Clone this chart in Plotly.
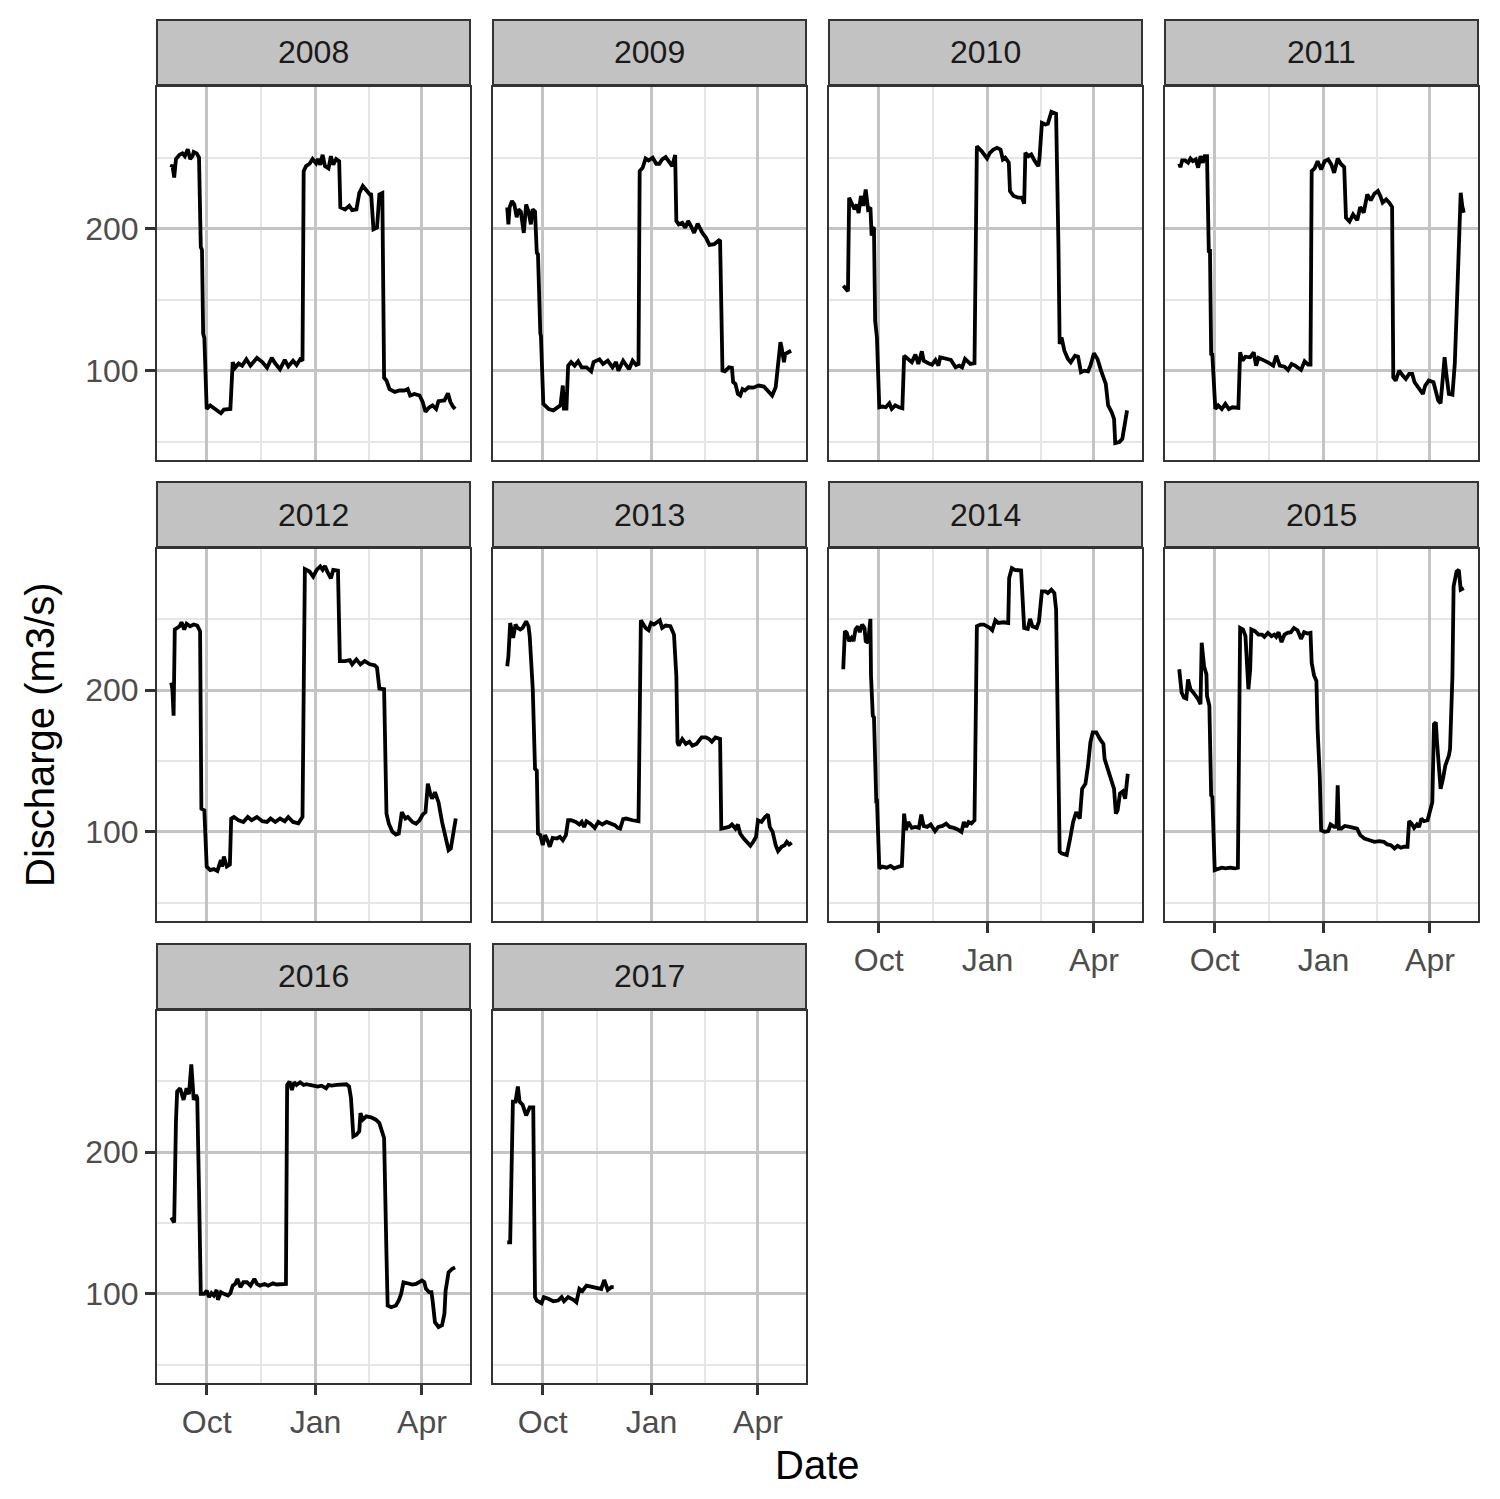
import pandas as pd
import plotly.graph_objects as go

# ---------------- data (day offset since 1 Sep, discharge m3/s) ----------------
years = ["2008", "2009", "2010", "2011", "2012", "2013", "2014", "2015", "2016", "2017"]

y2008 = [(0,243),(1,245),(2.5,236),(4,249),(7,252),(9.5,253),(11.5,251),(14,256),(16,249),(18,251),(19,254),(21.5,253),(23.5,250),(25,187),(26,185),(27,126),(28,123),(30,73),(33,75.5),(35.5,74),(38,72),(42,70),(44.5,72.5),(50,73),(52,106),(54,102),(57,105),(60,103.5),(63.5,108),(67,103.5),(72.5,109),(77,106),(81,102),(85,109),(88,105),(92,101),(96,107.5),(99,103),(103,107),(106,104),(109,108),(111,107),(112,240.5),(114,244),(117,245.7),(119.5,249),(122.5,246),(124,249),(126,245),(128,252),(130,244),(133,242.4),(135,251),(137,245),(139.5,249),(142,247.5),(143,215),(147,213.5),(150.5,216),(153,213),(156.6,213.6),(159,225),(162,230),(165,226.5),(168,224),(169,225),(171,199.5),(174,200.7),(176,224),(178.5,225),(180,95),(182,93),(184.6,87),(189,85),(193,86),(197,86),(200,87),(202,82.5),(205.6,83.6),(210,82.5),(212.6,78),(215,71),(218,74),(221,75.5),(224,73),(226,78.5),(231,79),(234,84),(236,78),(238,75),(240,73)]

y2009 = [(0,215),(1,203),(2,215),(4,219.5),(6,217),(8,208),(9.5,213.6),(11.5,212),(14,197),(16,217),(18,212),(20,203),(21.5,213.6),(23.5,212),(25,183),(26,182),(28,126),(28.5,124.6),(30.5,76.6),(35,73),(39,72),(43,74.2),(45,75.5),(47,89.5),(48,72),(49,84.8),(50,72),(51.5,103.5),(54,106),(57,103.5),(60,106.6),(63,102.3),(67,102.3),(71,99.5),(73,106),(78,108),(81,104.7),(85,107),(89,102.3),(92,106),(94,100),(98,107),(100.5,103.5),(103,101),(106,107),(109,104),(111,104.7),(112,240.5),(114.5,242.9),(117,249.4),(119.5,248),(123,250),(126,245.7),(128.6,245.7),(131,248.7),(134,250.4),(136.5,247.5),(139.5,244),(142,251.8),(143,205.4),(145,203),(148,204),(150.5,200.7),(153,205.4),(156,200.7),(158,197),(161,203.5),(165,197),(168,193.7),(171,188.5),(175,189),(179,191.8),(180,191.3),(182,100),(184,99.5),(187.5,102.3),(190,101.9),(191,92),(193,90.6),(195,83.6),(197,82.5),(199,87),(201,86),(204,88.3),(208,88),(212.6,89.5),(217,88.8),(220,86),(224,82.5),(227,88.3),(229,107),(231,120),(232,116.4),(234,106),(235,111.7),(238,113),(240,114)]

y2010 = [(0,159.7),(2,157.4),(4,156),(5,221.8),(7.5,218),(9.5,213.6),(11.5,217),(13,211),(15,223),(17,216),(19,227.6),(21,213.6),(23,214.8),(24,195),(25,200.7),(26,200),(27,135),(28.5,123.4),(30.5,74.2),(33,74.7),(36,74.2),(39,77),(41,73),(44,75.5),(47,74.2),(50,73.5),(51.5,110.5),(54,109),(58,106),(61,111.3),(63.5,104.7),(66.5,113.6),(68,107),(72,105.2),(75,104.2),(78,107.5),(80.5,103.5),(82,109.4),(86.5,108.2),(91,107.5),(95,102.3),(98,103.5),(100.5,102.3),(103,108.2),(107.5,104.7),(111,105.2),(113,258),(117,254.6),(121.6,249.4),(124,253.4),(127,255.7),(130,256.9),(133,255.7),(135,248.7),(137,249.9),(140,246.4),(141,226.5),(144,223),(148,221.8),(151,221.8),(153,217.6),(154,253.4),(156.6,251),(159,252.2),(162,247.5),(165,244),(166,250),(168,274.5),(171,273.3),(173,273.8),(176,282.2),(177.6,281.5),(180,280.8),(182,186.7),(183,118.7),(184.6,123.4),(187,114),(190,108.2),(192.4,105.8),(196,110.5),(198.6,109.8),(201,98.8),(204,100),(207,99.5),(209,103.5),(212,112.2),(215,108.2),(218,100),(220,94.1),(222,90.6),(224,75.5),(227,70.7),(229,66),(230,49),(233.5,49.7),(236,52),(240,72)]

y2011 = [(0,245.7),(1,243.3),(2.5,248),(5,248),(7.5,246.4),(9.5,249.4),(11.5,247.5),(14,248.7),(16,242.9),(18,251),(20,246.4),(21.5,251),(23.5,251),(25,184.3),(26,184.3),(27,111.7),(28,111.3),(30.5,73),(33,75.5),(36,73),(39,76.6),(42,73),(45,74.2),(50,73.7),(51.5,112.9),(53.5,107),(56,109.8),(60,109.4),(63,112.9),(65,103.5),(67,109),(71,107.5),(75,105.8),(79.5,103.5),(82,110.5),(85,103.5),(89,102.8),(92,100.5),(95,104.7),(98,103.5),(103,100.5),(106,106.6),(109,104.2),(111,104.2),(112,240.5),(114.5,242.4),(117,247.5),(120,241.7),(123,247.5),(126,248.7),(128.6,245.2),(131,239.3),(134,249.4),(136.5,245.7),(139.5,243.3),(141,207.7),(144,205),(147,210),(150.5,205.9),(153,215.2),(156,211.2),(159,224.1),(162,219.9),(165,224.6),(168,226.5),(170,223),(172,218.3),(175,220.6),(177.6,218.3),(180,215.2),(181,95.3),(183,93),(186,100),(189,96.5),(191.6,94.1),(194.4,97.7),(197,97.7),(199,91.8),(201,89.5),(204,86),(206,83.6),(208,89.5),(211,93),(215,91.8),(217,86),(219,78.9),(221,77),(222.5,90.6),(224.4,109.4),(226,96.5),(228,83.6),(231,83.1),(233,104.7),(234.5,139.8),(236.5,182),(238,225.3),(239.3,216),(240.6,211.2)]

y2012 = [(0,205.4),(1,200.7),(2,182),(3,242.9),(5,244),(7,245.2),(8.7,248),(11,242.9),(13,247),(16,245.2),(19,246.4),(22,245.7),(24.4,241.7),(25.5,116.4),(28,115.2),(30,75.5),(33,73),(36,73.7),(39,72.4),(42,80),(43,75.5),(44.5,82.5),(47,75.5),(49.6,77),(50.7,109.4),(53,110.5),(57,108.2),(61,107),(64.7,110.5),(68,108.2),(72.5,110.5),(77,107.5),(81,107),(84,109.4),(88,107),(92,109.4),(96,107.5),(99,110.5),(103,107),(107.5,106),(111,110.5),(113,285.5),(117,283.8),(120,280.3),(123,285),(126,287.4),(128,285),(130,287.8),(132,283.8),(135,279),(137,285),(141,284.5),(142.6,220.6),(147,220.6),(151,221.3),(153,218.3),(156.6,221.8),(160,218.3),(163.6,220.6),(168,218.3),(172,217.6),(174,215.9),(176,201.2),(178.5,200.7),(180,200.7),(182,112.9),(184,105.8),(187,100),(190,98.1),(192.4,98.8),(195,114),(198,109.4),(200,110.5),(204,107),(207,105.8),(210,108.2),(212.6,112.2),(215,114),(217,134),(219,126.9),(220.5,123.4),(223,128),(226,121),(229,107),(232,96.5),(234.5,87.1),(236.4,88.3),(240.6,109.4)]

y2013 = [(0,217),(1,224.1),(2.5,247.5),(4,241.7),(5,237),(7,246.4),(8.7,244),(11,242.9),(13,244),(16,248.7),(18,245.2),(19,238.2),(21,201.9),(21.6,200.7),(23.5,144.5),(25,143.3),(26,98.8),(28,97.7),(30,90.6),(32,97.7),(34,94.1),(36,89.5),(38.4,95.8),(42,95.3),(44.5,96.5),(47,94.1),(49.6,97.7),(51.5,108.2),(54,108.2),(58,107),(61,105.2),(63,107),(65,103.5),(67,107.5),(70.3,105.8),(74,102.8),(77,107),(80.4,105.2),(84,107),(87,105.8),(91,104.7),(93.5,102.8),(95.5,102.3),(98,109),(100.5,109.4),(106,108.2),(111,107.5),(113,249.4),(115,246.4),(117,244),(119.5,242.4),(121.6,247.5),(124,246.4),(127,248.7),(129,249.4),(131,244),(134,245.7),(138,245.2),(141,239.3),(143,210),(144,163.2),(145,160.9),(148,165.6),(151,162.1),(154,163.7),(156.6,160.9),(160,162.1),(164.4,166.7),(168,166.7),(170.6,165.6),(173,163.7),(176,166.7),(179,166),(180,165.6),(181,102.3),(184,102.8),(187.5,103.5),(190,105.2),(193,102.3),(195,105.2),(197,98.8),(200,95.3),(203,93),(205.6,90.2),(208,93),(210.4,96.5),(212,108.2),(215,107),(218,110.5),(220.5,112.2),(222,103.5),(224.4,100),(227,90.6),(229,86.4),(232,89.5),(234.5,90.6),(236.4,93),(238.4,91.1),(240.6,92.3)]

y2014 = [(0,214.8),(1.4,241.7),(3,240.5),(5,234.7),(7,237),(8.7,234.7),(10.4,242.9),(12.3,245.2),(14,241),(16,246.4),(18,244),(19,234.7),(21,233.5),(23,250.4),(23.5,210),(25,182),(26,180.8),(27,130.4),(28,120),(28.5,123.4),(30.5,74.2),(33,75.5),(36.7,74.7),(40,76),(43,74.2),(47,75.5),(49.6,76),(50.7,97.7),(51.5,112.9),(53,101.2),(55,107),(58,102.8),(61,103.5),(64,102.8),(66,112.2),(68,104.2),(71,103.5),(74,105.2),(77.6,100.5),(80.4,103.5),(84,104.2),(87,105.8),(90,103.5),(93.5,102.8),(96.4,101.9),(100,100),(102,107),(104,103.5),(106,107),(108.4,106),(111,108.2),(113,245.2),(116,246.4),(119,246.4),(121.6,245.2),(124,244),(126,242.4),(128.6,249.4),(131,247.5),(135.5,248),(139.5,247.5),(140.3,279.2),(142.6,286.2),(145,285),(150.4,284.5),(151.3,268.6),(153,244),(156,243.3),(158,250.4),(160,245.2),(163.6,244),(165.5,248.7),(168,269.8),(171,269.8),(173,268.6),(176,271),(178.5,268.6),(180,256.9),(182,139.8),(183,86),(184.6,84.8),(189,83.6),(191.6,94.1),(194.4,107),(197,114),(200,109.4),(202,130.4),(204.8,134),(207,146.8),(209,163.2),(211,170.3),(214,170.3),(217,165.6),(220,162.1),(221,151.5),(223,145.7),(225,139.8),(227,135),(229,130.4),(230.5,112.9),(232,115.2),(234,127),(236.4,128.6),(238.4,123.4),(240.6,141)]

y2015 = [(0,214.8),(1,201.9),(2,198.4),(4,194.8),(6,194.1),(7.5,207.7),(9.5,200.7),(11.5,198.8),(14,196),(16,193.7),(18,190.2),(19,233.5),(21,217),(23,211.2),(23.5,196),(25.5,189),(27,125.8),(28,124.6),(30,73),(33,74.2),(36,74.7),(39,74.2),(43,74.7),(47,74.2),(49.6,74.7),(51.5,244),(54,242.9),(56,238.2),(58.5,200.7),(60,214.8),(61,242.9),(64,241.7),(67,239.3),(70,239.3),(72,237.7),(75,240.5),(78,238.2),(80.4,239.3),(82,237.7),(84,241),(86.5,234),(89,239.3),(91.6,240.5),(94.4,241),(97,244),(100,242.4),(103,236.3),(105.6,241),(108.4,240),(111,240.5),(112,219.4),(114,210.5),(116,206.6),(117,172.6),(118.8,139.8),(120,101.2),(123,100),(126,100.5),(128,105.2),(131,103.5),(133,103.5),(134,132.8),(135,102.3),(137,102.3),(140,104.2),(144,103.5),(148,102.8),(150.4,102.3),(153,97.7),(156.6,95.3),(161,94.1),(165,93),(169,93.4),(173,93),(176,91.1),(179,90.6),(182,88.3),(184.6,90.2),(187.5,88.8),(190,89.5),(193,89.5),(194.4,107.5),(196.4,106),(198.6,102.8),(201,105.2),(202.8,103.5),(204.8,109.4),(207,107.5),(210,108.2),(212,114),(214,121),(215.4,176.1),(217,177.3),(218,163.2),(219.6,142.2),(221,130.4),(223,137.5),(225,146.8),(228,153.9),(229,158.5),(231,210),(232,273.3),(234.5,283.8),(236.4,285),(238,271),(240.6,272.1)]

y2016 = [(0,153.9),(2.5,150.4),(4,221.8),(5,242.9),(7.5,245.2),(10.4,237),(13,245.2),(15,241),(17,262),(19,237),(21,240.5),(22,238.2),(23.5,172.6),(25,100),(28,100),(30,102.3),(32,97.7),(34,100.5),(36,98.8),(38.4,102.8),(39.5,95.8),(42,101.2),(44.5,100),(48,98.8),(50,100.5),(52,105.8),(54,107),(56,110.5),(58.5,104.7),(61,108.2),(64,108.2),(67,105.8),(70.3,110.5),(72.5,107),(75,105.8),(79,107),(82,105.8),(86,107.5),(89,106.6),(93.5,107),(97,107),(98,247.5),(100,249.9),(102,244),(104,249.4),(106,247.5),(109,249.4),(112,247.5),(114.5,248),(117,247.5),(121.6,246.4),(124,246.4),(127,247),(131,245.2),(133,247.5),(135.5,247),(140,247.5),(144,248),(148,248),(150.4,246.4),(152,238.2),(154,211.2),(156.6,212.4),(159,214.8),(160,227.6),(162,223),(165,225.3),(169,224.6),(173,223),(176,220.6),(178.5,214.8),(180,210),(182,128),(183,91.8),(186,90.6),(190,91.8),(192.4,95.3),(194.4,100),(196.4,108.2),(200,107.5),(204,106.6),(207,107),(210,108.2),(212,109.4),(214,108.2),(215.4,103.5),(218,101.2),(220,101.2),(221,95.3),(223,80),(226,76.6),(229,77.8),(231,86),(232,102.3),(234.5,115.2),(237.4,117.6),(240,118.7)]

y2017 = [(0,136.3),(2.5,136.3),(4.8,235.8),(7,235.8),(9,246.4),(10.4,235.8),(13,233.5),(16,226),(19,231.6),(22,231.6),(23.5,97.7),(25,95.3),(29,93.4),(31,97.7),(34.7,96.5),(39,94.8),(43,95.3),(46,97.7),(48,94.8),(51.5,97.7),(56,95.8),(58.5,94.1),(61,103.5),(63.5,101.9),(67,105.8),(71,105.2),(75,104.7),(79.5,103.5),(82,109.8),(85,102.8),(88,104.7),(90,104.7)]

series = [y2008, y2009, y2010, y2011, y2012, y2013, y2014, y2015, y2016, y2017]

x_tick_dates = ["2001-10-01", "2002-01-01", "2002-04-01"]
x_tick_text = ["Oct", "Jan", "Apr"]
x_minor_dates = ["2001-11-16", "2002-02-15"]
y_ticks = [100, 200]
y_minor = [50, 150, 250]
base_date = pd.Timestamp("2001-09-01")

# ---------------- layout geometry ----------------
W, H = 1500, 1499
col_px = [(157, 470), (493, 806), (829, 1142), (1165, 1478)]
row_panel_px = [(87, 460), (549, 921), (1011, 1383)]
row_strip_px = [(20, 85), (482, 547), (944, 1009)]

def fx(p):
    return p / W

def fy(p):
    return 1 - p / H

def to_date(d):
    return (base_date + pd.Timedelta(days=float(d))).strftime("%Y-%m-%d %H:%M:%S")

all_d = [p[0] for s in series for p in s]
all_q = [p[1] for s in series for p in s]
dmin, dmax = min(all_d), max(all_d)
qmin, qmax = min(all_q), max(all_q)
xr = [to_date(dmin - 0.05 * (dmax - dmin)), to_date(dmax + 0.05 * (dmax - dmin))]
yr = [qmin - 0.05 * (qmax - qmin), qmax + 0.05 * (qmax - qmin)]

MAJ = "#C4C4C4"
MIN = "#E6E6E6"
BORDER = "#333333"
FONT = "Liberation Sans, Arial, Helvetica, sans-serif"

fig = go.Figure()
shapes = []
annotations = []
layout_axes = {}

for i, (yr_lbl, s) in enumerate(zip(years, series)):
    r, c = divmod(i, 4)
    sfx = "" if i == 0 else str(i + 1)
    x0, x1 = col_px[c]
    p0, p1 = row_panel_px[r]
    s0, s1 = row_strip_px[r]
    bottom = (r == 2) or (r == 1 and c >= 2)
    left = c == 0

    fig.add_trace(go.Scatter(
        x=[to_date(p[0]) for p in s], y=[p[1] for p in s],
        mode="lines", line=dict(color="black", width=3.8),
        xaxis="x" + sfx, yaxis="y" + sfx, showlegend=False, hoverinfo="skip"))

    layout_axes["xaxis" + sfx] = dict(
        domain=[fx(x0), fx(x1)], anchor="y" + sfx, type="date", range=xr,
        tickmode="array", tickvals=x_tick_dates, ticktext=x_tick_text,
        showticklabels=bottom, ticks="outside" if bottom else "",
        ticklen=10, tickwidth=3, tickcolor=BORDER,
        tickfont=dict(size=32, color="#4D4D4D", family=FONT),
        showgrid=True, gridcolor=MAJ, gridwidth=3,
        minor=dict(tickmode="array", tickvals=x_minor_dates, showgrid=True,
                   gridcolor=MIN, gridwidth=1.5, ticks=""),
        showline=True, linecolor=BORDER, linewidth=2, mirror=True,
        zeroline=False, fixedrange=True)
    layout_axes["yaxis" + sfx] = dict(
        domain=[fy(p1), fy(p0)], anchor="x" + sfx, range=yr,
        tickmode="array", tickvals=y_ticks,
        showticklabels=left, ticks="outside" if left else "",
        ticklen=10, tickwidth=3, tickcolor=BORDER,
        tickfont=dict(size=32, color="#4D4D4D", family=FONT),
        showgrid=True, gridcolor=MAJ, gridwidth=3,
        minor=dict(tickmode="array", tickvals=y_minor, showgrid=True,
                   gridcolor=MIN, gridwidth=1.5, ticks=""),
        showline=True, linecolor=BORDER, linewidth=2, mirror=True,
        zeroline=False, fixedrange=True)

    shapes.append(dict(type="rect", xref="paper", yref="paper",
                       x0=fx(x0), x1=fx(x1), y0=fy(s1), y1=fy(s0),
                       fillcolor="#C2C2C2", line=dict(color=BORDER, width=2)))
    annotations.append(dict(text=yr_lbl, xref="paper", yref="paper",
                            x=fx((x0 + x1) / 2), y=fy((s0 + s1) / 2),
                            xanchor="center", yanchor="middle", showarrow=False,
                            font=dict(size=32, color="#1A1A1A", family=FONT)))

annotations.append(dict(text="Date", xref="paper", yref="paper",
                        x=fx((157 + 1478) / 2), y=fy(1465), xanchor="center", yanchor="middle",
                        showarrow=False, font=dict(size=40, color="black", family=FONT)))
annotations.append(dict(text="Discharge (m3/s)", xref="paper", yref="paper",
                        x=fx(40), y=fy(735), xanchor="center", yanchor="middle", textangle=-90,
                        showarrow=False, font=dict(size=40, color="black", family=FONT)))

fig.update_layout(
    width=W, height=H, margin=dict(l=0, r=0, t=0, b=0),
    paper_bgcolor="white", plot_bgcolor="white",
    font=dict(family=FONT), shapes=shapes, annotations=annotations,
    **layout_axes)

fig.write_html("out.html", config={"displayModeBar": False},
               post_script="document.body.style.margin='0';document.body.style.padding='0';")
